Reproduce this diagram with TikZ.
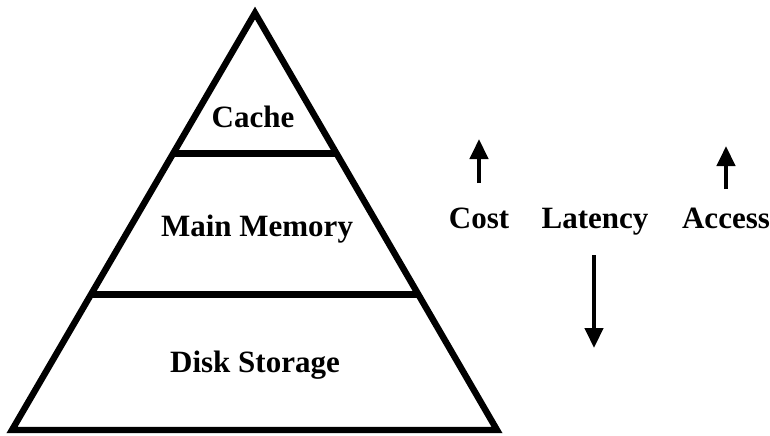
\documentclass[tikz,border=0pt]{standalone}
\usepackage{fontspec}
\setmainfont{Liberation Serif}
\usetikzlibrary{positioning,arrows.meta,calc}

\begin{document}
\begin{tikzpicture}[x={(0.5pt,0)},y={(0,-0.5pt)},>={Triangle[length=10pt,width=9pt]},
        lvl/.style={line width=3.2pt},
        lbl/.style={font=\fontsize{15.5}{18}\selectfont\bfseries,anchor=base,inner sep=0pt},
        arr/.style={->,line width=2.2pt}]
        \useasboundingbox (0,0) rectangle (770,435);
        % pyramid
        \coordinate (top) at (255,13);
        \coordinate (bl) at (12,430);
        \coordinate (br) at (497,430);
        \draw[lvl,line join=miter] (top)--(bl)--(br)--cycle;
        \coordinate (l1) at ($(top)!0.337!(bl)$);
        \coordinate (r1) at ($(top)!0.337!(br)$);
        \coordinate (l2) at ($(top)!0.675!(bl)$);
        \coordinate (r2) at ($(top)!0.675!(br)$);
        \draw[lvl] (l1)--(r1);
        \draw[lvl] (l2)--(r2);
        \node[lbl](cache) at (253,127){Cache};
        \node[lbl](mem) at (257,236){Main Memory};
        \node[lbl](disk) at (255,372){Disk Storage};
        % trends
        \node[lbl](cost) at (479,228){Cost};
        \node[lbl](lat) at (595,228){Latency};
        \node[lbl](acc) at (726,228){Access};
        \coordinate (c0) at (479,183);\coordinate (c1) at (479,139);
        \coordinate (a0) at (726,189);\coordinate (a1) at (726,146);
        \coordinate (t0) at (594,255);\coordinate (t1) at (594,348);
        \draw[arr](c0)--(c1);
        \draw[arr](a0)--(a1);
        \draw[arr](t0)--(t1);
      \end{tikzpicture}
\end{document}
